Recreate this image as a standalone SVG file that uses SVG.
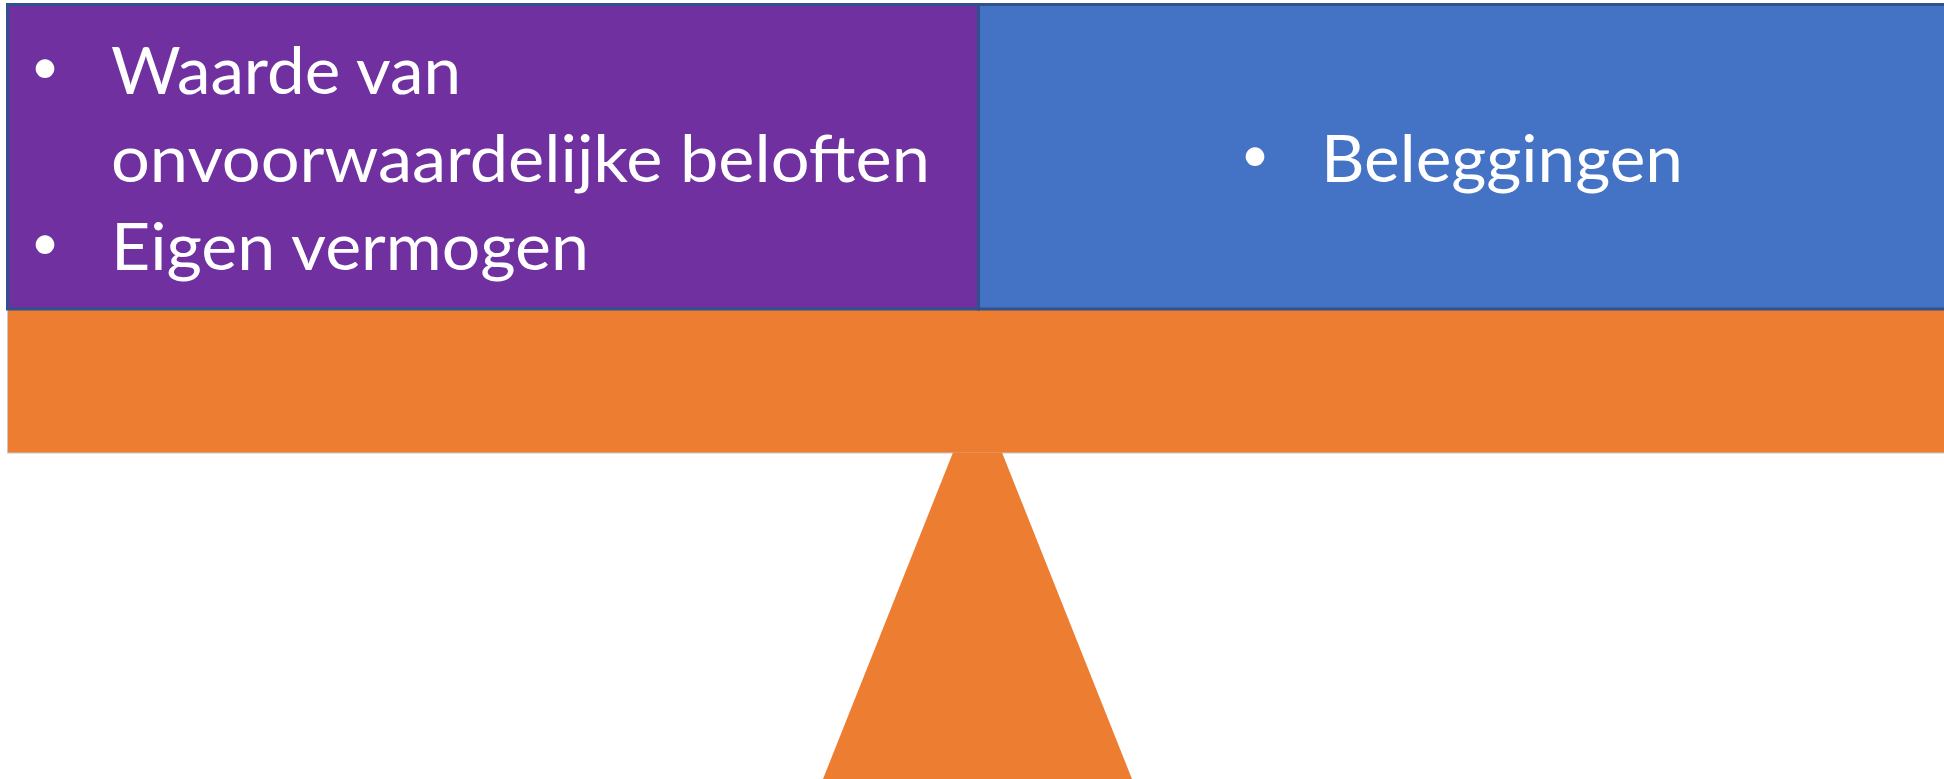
<svg xmlns="http://www.w3.org/2000/svg" width="1944" height="779" viewBox="0 0 1944 779">
<style>
.box{stroke:#2F528F;stroke-width:3}
.t{font-family:Lato,"Open Sans","Liberation Sans",sans-serif;font-size:65px;fill:#FFFFFF}
.b{font-family:Lato,"Open Sans","Liberation Sans",sans-serif;font-size:50px;fill:#FFFFFF;text-anchor:middle}
</style>
<rect width="1944" height="779" fill="#FFFFFF"/>
<g id="beam">
<rect x="7.5" y="309" width="1940" height="144" fill="#ED7D31" stroke="#C8C8C8" stroke-width="1"/>
</g>
<g id="fulcrum">
<polygon points="953,452.5 1002,452.5 1132,779 823,779" fill="#ED7D31"/>
</g>
<g id="liabilities">
<rect class="box" x="7.5" y="4.5" width="971" height="304.5" fill="#7030A0"/>
<text class="b" x="45" y="84">•</text>
<text class="t" x="111" y="94" textLength="350" lengthAdjust="spacingAndGlyphs">Waarde van</text>
<text class="t" x="111" y="182" textLength="819" lengthAdjust="spacingAndGlyphs">onvoorwaardelijke beloften</text>
<text class="b" x="45" y="260">•</text>
<text class="t" x="111" y="270" textLength="478" lengthAdjust="spacingAndGlyphs">Eigen vermogen</text>
</g>
<g id="assets">
<rect class="box" x="978.5" y="4.5" width="970" height="304.5" fill="#4472C4"/>
<text class="b" x="1255" y="172">•</text>
<text class="t" x="1321" y="182" textLength="362" lengthAdjust="spacingAndGlyphs">Beleggingen</text>
</g>
<g id="connectors"></g>
</svg>
